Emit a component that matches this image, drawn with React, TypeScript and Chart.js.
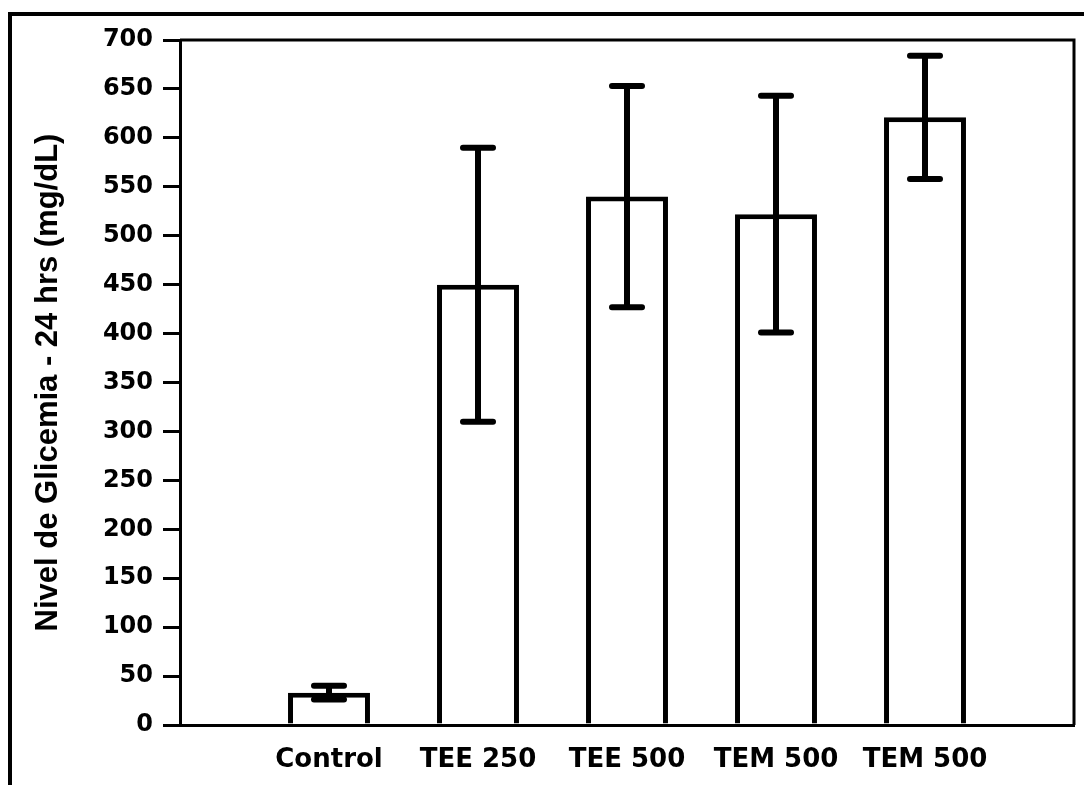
import React, { useEffect, useRef } from 'react';
import { Chart, registerables } from 'chart.js';

Chart.register(...registerables);

const categories = ['Control', 'TEE 250', 'TEE 500', 'TEM 500', 'TEM 500'];
const means = [33, 450, 540, 522, 621];
const errors = [7, 140, 113, 121, 63];
const yMin = 0;
const yMax = 700;
const yStep = 50;
const yAxisTitle = 'Nivel de Glicemia - 24 hrs (mg/dL)';

// one empty slot on each side, as in the original figure
const labels = ['', ...categories, ''];
const paddedMeans: (number | null)[] = [null, ...means, null];
const paddedErrors: (number | null)[] = [null, ...errors, null];

const errorBarPlugin = {
  id: 'errorBars',
  afterDatasetsDraw(chart: any) {
    const meta = chart.getDatasetMeta(0);
    const y = chart.scales.y;
    const ctx = chart.ctx;
    ctx.save();
    ctx.strokeStyle = '#000';
    ctx.lineWidth = 6;
    ctx.lineCap = 'round';
    meta.data.forEach((bar: any, i: number) => {
      const v = paddedMeans[i];
      const e = paddedErrors[i];
      if (v == null || e == null) return;
      const x = bar.x;
      const yTop = y.getPixelForValue(v + e);
      const yBot = y.getPixelForValue(v - e);
      const cap = 15;
      ctx.beginPath();
      ctx.moveTo(x, yTop);
      ctx.lineTo(x, yBot);
      ctx.moveTo(x - cap, yTop);
      ctx.lineTo(x + cap, yTop);
      ctx.moveTo(x - cap, yBot);
      ctx.lineTo(x + cap, yBot);
      ctx.stroke();
    });
    ctx.restore();
  },
};

const frameBoxPlugin = {
  id: 'frameBox',
  afterDraw(chart: any) {
    const { top, right, bottom, left } = chart.chartArea;
    const ctx = chart.ctx;
    ctx.save();
    ctx.strokeStyle = '#000';
    ctx.lineWidth = 3;
    ctx.beginPath();
    ctx.moveTo(left, top);
    ctx.lineTo(right, top);
    ctx.lineTo(right, bottom);
    ctx.stroke();
    ctx.restore();
  },
};

export default function App() {
  const canvasRef = useRef<HTMLCanvasElement | null>(null);

  useEffect(() => {
    if (!canvasRef.current) return;
    const chart = new Chart(canvasRef.current, {
      type: 'bar',
      data: {
        labels,
        datasets: [
          {
            data: paddedMeans as any,
            backgroundColor: '#ffffff',
            borderColor: '#000000',
            borderWidth: 5,
            categoryPercentage: 1,
            barPercentage: 0.55,
          },
        ],
      },
      options: {
        animation: false,
        responsive: false,
        maintainAspectRatio: false,
        layout: { padding: { top: 40, right: 10, bottom: 0, left: 0 } },
        plugins: {
          legend: { display: false },
          tooltip: { enabled: false },
        },
        scales: {
          x: {
            type: 'category',
            offset: false,
            grid: { display: false, drawTicks: false },
            border: { display: true, color: '#000', width: 3 },
            ticks: {
              color: '#000',
              padding: 20,
              autoSkip: false,
              maxRotation: 0,
              font: { family: 'DejaVu Sans', weight: 'bold', size: 26 },
            },
            afterFit: (scale: any) => {
              scale.height = 60;
              scale.paddingLeft = 0;
              scale.paddingRight = 0;
            },
          },
          y: {
            min: yMin,
            max: yMax,
            ticks: {
              stepSize: yStep,
              color: '#000',
              padding: 10,
              font: { family: 'DejaVu Sans', weight: 'bold', size: 24 },
            },
            grid: {
              drawOnChartArea: false,
              drawTicks: true,
              tickLength: 17,
              color: '#000',
              lineWidth: 3,
            },
            border: { display: true, color: '#000', width: 3 },
            title: {
              display: true,
              text: yAxisTitle,
              color: '#000',
              padding: { top: 30, bottom: 0 },
              font: { family: 'Liberation Sans', weight: 'bold', size: 31 },
            },
            afterFit: (scale: any) => {
              scale.width = 180;
            },
          },
        },
      },
      plugins: [errorBarPlugin, frameBoxPlugin],
    });
    return () => chart.destroy();
  }, []);

  return (
    <div>
      <div
        style={{
          position: 'fixed',
          left: 8,
          top: 12,
          width: 1100,
          height: 800,
          borderLeft: '4px solid #000',
          borderTop: '4px solid #000',
          boxSizing: 'border-box',
        }}
      />
      <canvas
        ref={canvasRef}
        width={1084}
        height={785}
        style={{ position: 'fixed', left: 0, top: 0, width: 1084, height: 785 }}
      />
    </div>
  );
}
